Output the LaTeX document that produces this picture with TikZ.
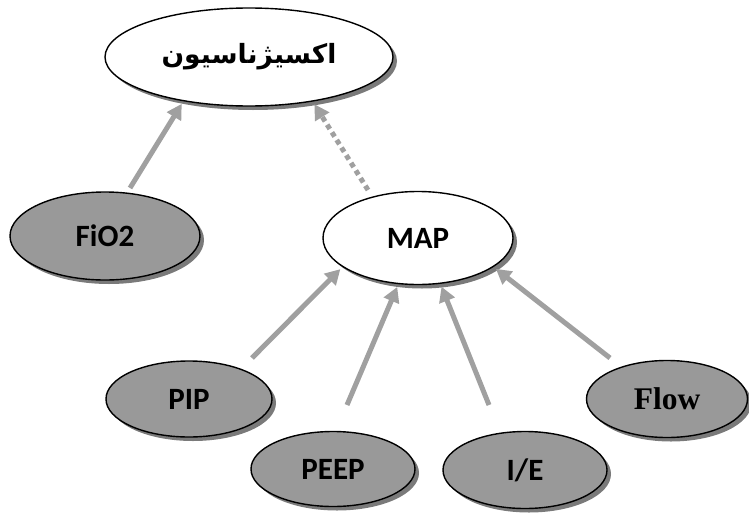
\documentclass[tikz,border=0pt]{standalone}
\usepackage{fontspec}
\TeXXeTstate=1
\newfontfamily\arabicfont[Script=Arabic]{DejaVu Sans}
\newfontfamily\calfont{Carlito}
\newfontfamily\timesfont{Liberation Serif}
\usetikzlibrary{shapes.geometric,shadows,arrows.meta}
\definecolor{nodegray}{HTML}{999999}
\definecolor{arrowgray}{HTML}{A0A0A0}
\definecolor{shadowgray}{HTML}{7A7A7A}
\tikzset{
  ell/.style={ellipse, draw=black, line width=1.4pt, inner sep=0pt,
    drop shadow={shadow xshift=4pt, shadow yshift=-4pt, opacity=1, fill=shadowgray}},
  whiteell/.style={ell, fill=white},
  grayell/.style={ell, fill=nodegray},
  lbl/.style={font=\calfont\bfseries\fontsize{31}{34}\selectfont},
  conn/.style={draw=arrowgray, line width=5pt, -{Triangle[length=15pt,width=16pt]}, shorten >=3pt},
  dotconn/.style={conn, dash pattern=on 5pt off 4pt}
}
\begin{document}
\begin{tikzpicture}[x=1pt,y=-1pt]
\useasboundingbox (0,0) rectangle (749,514);
\node[whiteell, minimum width=288pt, minimum height=98pt] (oxy) at (249,57)
  {\arabicfont\bfseries\fontsize{26.5}{30}\selectfont\beginR اکسیژناسیون\endR};
\node[grayell, lbl, minimum width=190pt, minimum height=88pt] (fio) at (105,236) {FiO2};
\node[whiteell, lbl, minimum width=190pt, minimum height=93pt] (map) at (418,238) {MAP};
\node[grayell, lbl, minimum width=166pt, minimum height=76pt] (pip) at (189,399) {PIP};
\node[grayell, lbl, minimum width=164pt, minimum height=75pt] (peep) at (333,469) {PEEP};
\node[grayell, lbl, minimum width=164pt, minimum height=77pt] (ie) at (525,470) {I/E};
\node[grayell, font=\timesfont\bfseries\fontsize{31.5}{34}\selectfont, minimum width=161pt, minimum height=77pt] (flow) at (667,399) {Flow};
\coordinate (t1) at (130,188);
\coordinate (t2) at (368,190);
\coordinate (t3) at (252,358);
\coordinate (t4) at (347,405);
\coordinate (t5) at (489,405);
\coordinate (t6) at (610,358);
\draw[conn] (t1) -- (oxy.214);
\draw[dotconn] (t2) -- (oxy.325);
\draw[conn] (t3) -- (map.201);
\draw[conn] (t4) -- (map.247);
\draw[conn] (t5) -- (map.296);
\draw[conn] (t6) -- (map.339);
\end{tikzpicture}
\end{document}
